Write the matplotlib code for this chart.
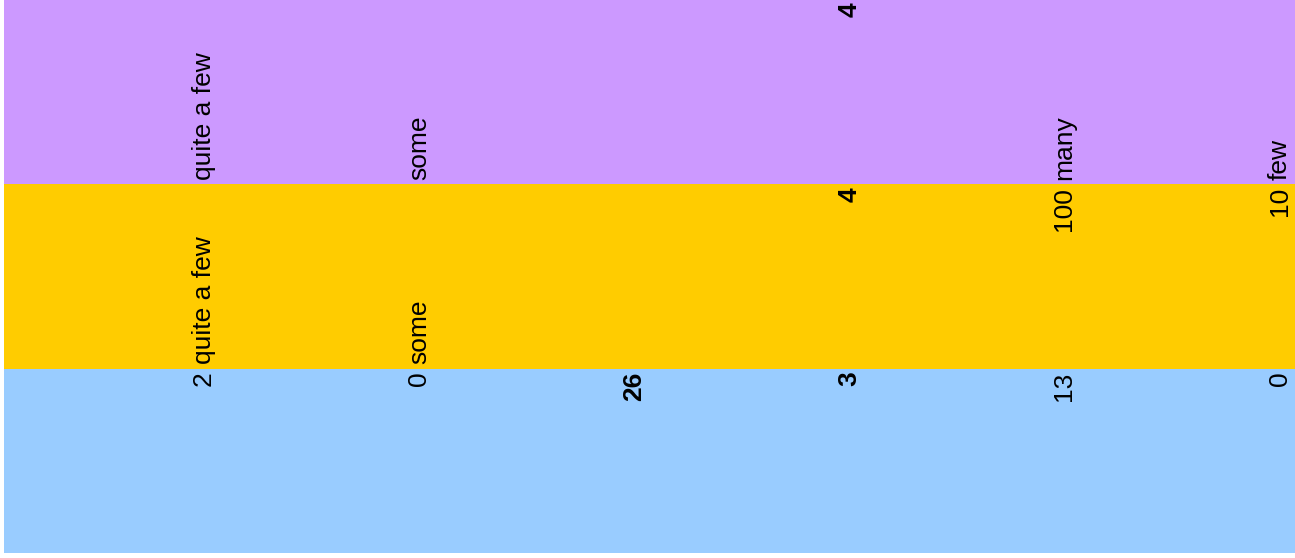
import matplotlib
matplotlib.use("Agg")
import matplotlib.pyplot as plt

# Bands from bottom to top
band_colors = ["#99CCFF", "#FFCC00", "#CC99FF"]

# Labels per band (6 columns); numbers hang from the band top,
# words stand on the band bottom
blue_top = ["2", "0", "26", "3", "13", "0"]
blue_top_bold = [False, False, True, True, False, False]
yellow_top = ["", "", "", "4", "100", "10"]
yellow_top_bold = [False, False, False, True, False, False]
yellow_bottom = ["quite a few", "some", "", "", "", ""]
purple_top = ["", "", "", "4", "", ""]
purple_top_bold = [False, False, False, True, False, False]
purple_bottom = ["quite a few", "some", "", "", "many", "few"]

n_cols = len(blue_top)

plt.rcParams["font.family"] = ["Liberation Sans", "DejaVu Sans"]

W, H = 1295, 558
fig = plt.figure(figsize=(W / 100, H / 100), dpi=100)
ax = fig.add_axes([4 / W, 5 / H, 1291 / W, 553 / H])
ax.set_xlim(0, n_cols)
ax.set_ylim(0, 3)
ax.axis("off")

for i, c in enumerate(band_colors):
    ax.axhspan(i, i + 1, color=c, lw=0)

FS = 19


def put(col, y, label, bold, top):
    if not label:
        return
    ax.annotate(label, xy=(col + 1, y), xycoords="data",
                xytext=(-2.5, -2 if top else 3), textcoords="offset points",
                rotation=90, ha="right", va="top" if top else "bottom",
                fontsize=FS, fontweight="bold" if bold else "normal")


for j in range(n_cols):
    put(j, 1, blue_top[j], blue_top_bold[j], True)
    put(j, 2, yellow_top[j], yellow_top_bold[j], True)
    put(j, 1, yellow_bottom[j], False, False)
    put(j, 3, purple_top[j], purple_top_bold[j], True)
    put(j, 2, purple_bottom[j], False, False)

fig.savefig("out.png", dpi=100)
